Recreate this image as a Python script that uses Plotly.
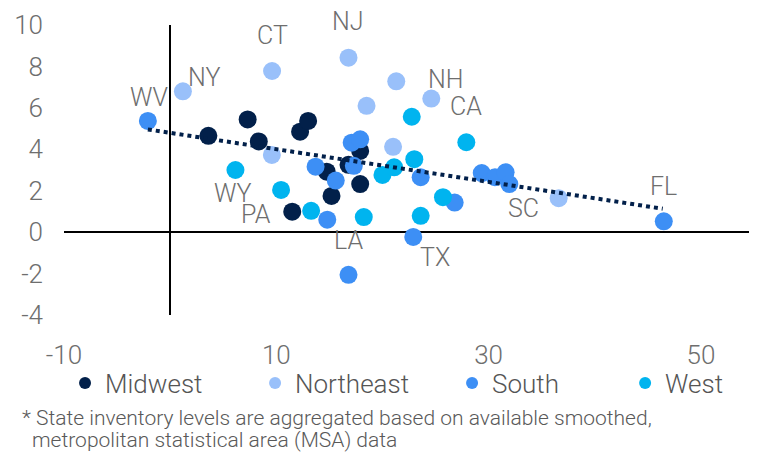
import plotly.graph_objects as go

# ---- data ----
regions = ["Midwest", "Northeast", "South", "West"]
colors = {"Midwest": "#02204A", "Northeast": "#99C0FA", "South": "#3D8FF5", "West": "#00B4EF"}

midwest_x = [3.6, 7.3, 8.35, 12.24, 13.0, 17.9, 16.8, 14.75, 17.9, 15.2, 11.5]
midwest_y = [4.65, 5.44, 4.38, 4.85, 5.37, 3.92, 3.25, 2.92, 2.32, 1.75, 0.99]

northeast_x = [16.8, 9.6, 1.2, 18.5, 21.3, 24.6, 9.58, 21.0, 36.6]
northeast_y = [8.42, 7.78, 6.8, 6.1, 7.28, 6.45, 3.73, 4.12, 1.64]

south_x = [-2.1, 13.7, 17.1, 17.9, 17.3, 15.6, 14.8, 16.8, 23.6, 29.35, 30.6, 31.6, 31.95, 26.8, 22.9, 46.5]
south_y = [5.37, 3.16, 4.32, 4.48, 3.2, 2.49, 0.6, -2.06, 2.65, 2.85, 2.65, 2.89, 2.32, 1.43, -0.23, 0.52]

west_x = [6.15, 10.45, 13.28, 18.24, 22.76, 27.9, 20.0, 21.1, 23.0, 25.7, 23.6]
west_y = [3.0, 2.04, 1.03, 0.73, 5.57, 4.34, 2.76, 3.13, 3.52, 1.69, 0.79]

series = {
    "Midwest": (midwest_x, midwest_y),
    "Northeast": (northeast_x, northeast_y),
    "South": (south_x, south_y),
    "West": (west_x, west_y),
}

trend_x = [-2.1, 46.4]
trend_y = [4.96, 1.13]

label_text = ["WV", "NY", "CT", "NJ", "NH", "CA", "WY", "PA", "LA", "TX", "SC", "FL"]
label_x = [-2.0, 3.2, 9.6, 16.8, 25.9, 27.9, 5.9, 8.1, 16.8, 24.95, 33.3, 46.5]
label_y = [6.5, 7.48, 9.5, 10.0, 7.38, 6.05, 1.85, 0.84, -0.39, -1.24, 1.12, 2.2]
label_yshift = [0, 0, 0, 4, 0, 0, 0, 0, 0, 0, 0, 0]

x_ticks = [-10, 10, 30, 50]
x_ticktext = ["-10", "10", "30", "50"]
y_ticks = [-4, -2, 0, 2, 4, 6, 8, 10]
y_ticktext = ["-4", "-2", "0", "2", "4", "6", "8", "10"]

footnote_lines = ["* State inventory levels are aggregated based on available smoothed,",
                  "metropolitan statistical area (MSA) data"]

FONT = "Roboto"
GRAY = "#6E6E6E"

# legend slots (one legend per region, placed side by side under the axis)
legend_ids = ["legend", "legend2", "legend3", "legend4"]
legend_x = [0.0015, 0.2769, 0.5624, 0.8132]

fig = go.Figure()
for r, lid in zip(regions, legend_ids):
    xs, ys = series[r]
    fig.add_trace(go.Scatter(
        x=xs, y=ys, mode="markers", name=r, legend=lid,
        marker=dict(size=18, color=colors[r], line=dict(width=0)),
    ))

fig.add_trace(go.Scatter(
    x=trend_x, y=trend_y, mode="lines", showlegend=False,
    line=dict(color="#02204A", width=4, dash="4px,4px"),
    hoverinfo="skip",
))

for t, lx, ly, dy in zip(label_text, label_x, label_y, label_yshift):
    fig.add_annotation(x=lx, y=ly, xref="x", yref="y", text=t, showarrow=False, yshift=dy,
                       font=dict(family=FONT, size=25, color=GRAY, weight=300))

fig.add_annotation(x=-0.0638, y=-0.3557, xref="paper", yref="paper", xanchor="left", yanchor="middle",
                   text=footnote_lines[0], showarrow=False, align="left",
                   font=dict(family=FONT, size=21, color="#595959", weight=300))
fig.add_annotation(x=-0.049, y=-0.4313, xref="paper", yref="paper", xanchor="left", yanchor="middle",
                   text=footnote_lines[1], showarrow=False, align="left",
                   font=dict(family=FONT, size=21, color="#595959", weight=300))

axis_common = dict(showgrid=False, zeroline=True, zerolinecolor="black", zerolinewidth=2,
                   showline=False, ticks="", automargin=False,
                   tickfont=dict(family=FONT, size=26, color=GRAY, weight=300))

legend_style = dict(orientation="h", xanchor="left", y=-0.235, yanchor="middle",
                    font=dict(family=FONT, size=26, color="#555555", weight=300),
                    itemsizing="constant", bgcolor="rgba(0,0,0,0)")

# page body has an 8px default margin, so the figure is sized to fit inside the window
fig.update_layout(
    width=749, height=449,
    margin=dict(l=56, r=3, t=16.5, b=141.5, autoexpand=False),
    plot_bgcolor="white", paper_bgcolor="white",
    xaxis=dict(range=[-10, 55], tickvals=x_ticks, ticktext=x_ticktext, ticklabelstandoff=22, **axis_common),
    yaxis=dict(range=[-4, 10], tickvals=y_ticks, ticktext=y_ticktext, ticklabelstandoff=20, **axis_common),
    showlegend=True,
)
fig.update_layout({lid: dict(x=lx, **legend_style) for lid, lx in zip(legend_ids, legend_x)})

fig.write_html("out.html")
